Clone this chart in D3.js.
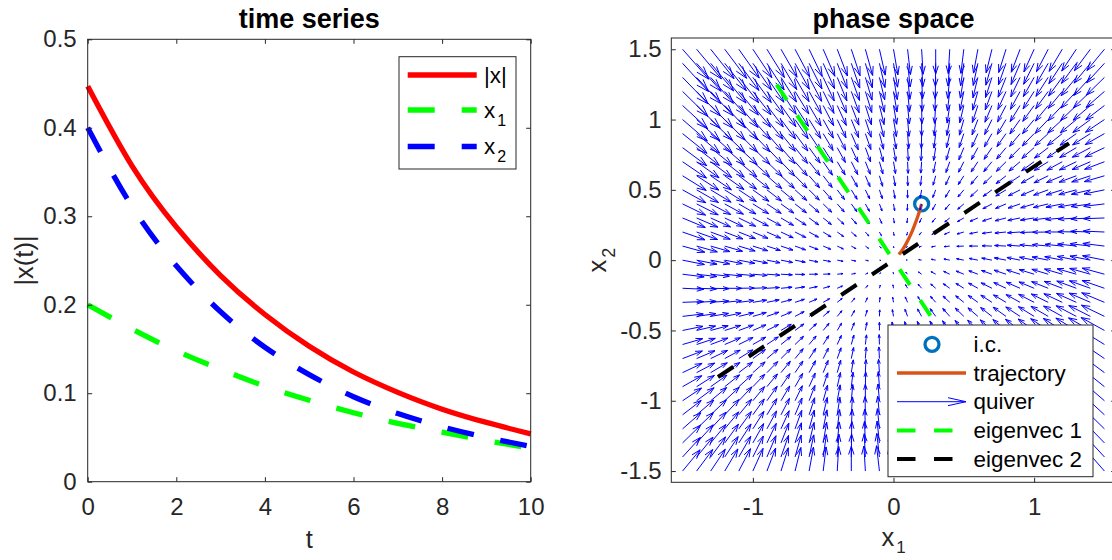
<!DOCTYPE html>
<html>
<head>
<meta charset="utf-8">
<script src="https://cdn.jsdelivr.net/npm/d3@7"></script>
<style>
  body { margin: 0; background: #fff; }
  svg { display: block; font-family: "Liberation Sans", Arial, Helvetica, sans-serif; }
</style>
</head>
<body>
<div id="chart"></div>
<script>
// ---- time series ----
const tValues  = [0, 1, 2, 3, 4, 5, 6, 7, 8, 9, 10];
const normX    = [0.447, 0.357, 0.288, 0.233, 0.189, 0.153, 0.124, 0.101, 0.082, 0.067, 0.054];
const x1Values = [0.200, 0.1725, 0.148, 0.127, 0.108, 0.092, 0.078, 0.066, 0.056, 0.0465, 0.038];
const x2Values = [0.400, 0.311, 0.244, 0.192, 0.152, 0.121, 0.096, 0.077, 0.062, 0.050, 0.040];
const tTicks = [0, 2, 4, 6, 8, 10];
const seriesTicks = [0, 0.1, 0.2, 0.3, 0.4, 0.5];
const seriesNames = ["|x|", "x1", "x2"];

// ---- phase space ----
const initialCondition = [0.2, 0.4];
const systemMatrix = [[-2.3, 0.46], [0.46, -2.69]];
const quiverGrid = [-1.5, -1.4, -1.3, -1.2, -1.1, -1.0, -0.9, -0.8, -0.7, -0.6, -0.5, -0.4, -0.3, -0.2, -0.1,
                    0, 0.1, 0.2, 0.3, 0.4, 0.5, 0.6, 0.7, 0.8, 0.9, 1.0, 1.1, 1.2, 1.3, 1.4, 1.5];
const eigenvec1 = [0.554, -0.832];
const eigenvec2 = [0.832, 0.554];
const eigenSpan = [-1.5, 1.5];
const phaseXTicks = [-1, 0, 1];
const phaseYTicks = [-1.5, -1, -0.5, 0, 0.5, 1, 1.5];
const phaseNames = ["i.c.", "trajectory", "quiver", "eigenvec 1", "eigenvec 2"];

const W = 1112, H = 560;
const axisColor = "#262626";
const tickFont = 24;
const labelFont = 25.5;
const titleFont = 27;
const legendFont = 22.4;

const svg = d3.select("#chart").append("svg")
    .attr("width", W)
    .attr("height", H);

// draws a MATLAB style box with inward ticks on all four sides
function drawAxes(g, x, y, xticks, yticks, ypad) {
    const [xa, xb] = x.range();
    const [yb, ya] = y.range();
    const fmt = d => String(d);
    const tl = 4.5;

    g.append("g").attr("transform", `translate(0,${yb})`)
        .call(d3.axisBottom(x).tickValues(xticks).tickSize(-tl).tickSizeOuter(0).tickPadding(16).tickFormat(fmt));
    g.append("g").attr("transform", `translate(0,${ya})`)
        .call(d3.axisTop(x).tickValues(xticks).tickSize(-tl).tickSizeOuter(0).tickFormat(""));
    g.append("g").attr("transform", `translate(${xa},0)`)
        .call(d3.axisLeft(y).tickValues(yticks).tickSize(-tl).tickSizeOuter(0).tickPadding(ypad).tickFormat(fmt));
    g.append("g").attr("transform", `translate(${xb},0)`)
        .call(d3.axisRight(y).tickValues(yticks).tickSize(-tl).tickSizeOuter(0).tickFormat(""));

    g.selectAll(".domain").remove();
    g.selectAll(".tick line").attr("stroke", axisColor).attr("stroke-width", 1);
    g.selectAll(".tick text")
        .attr("fill", axisColor)
        .style("font-size", tickFont + "px")
        .style("font-family", "'Liberation Sans', Arial, sans-serif");

    g.append("rect")
        .attr("x", xa).attr("y", ya)
        .attr("width", xb - xa).attr("height", yb - ya)
        .attr("fill", "none")
        .attr("stroke", axisColor)
        .attr("stroke-width", 1);
}

// ================= left: time series =================
const xT = d3.scaleLinear().domain([0, 10]).range([87.7, 530.7]);
const yT = d3.scaleLinear().domain([0, 0.5]).range([481.7, 39.3]);

const left = svg.append("g");

const seriesLine = d3.line()
    .x(d => xT(d[0]))
    .y(d => yT(d[1]))
    .curve(d3.curveNatural);

const series = [
    { name: seriesNames[0], values: normX,    color: "#ff0000", dash: null },
    { name: seriesNames[1], values: x1Values, color: "#00ff00", dash: "27,27" },
    { name: seriesNames[2], values: x2Values, color: "#0000ff", dash: "27,27" }
];

left.selectAll(".series")
    .data(series)
    .enter().append("path")
    .attr("class", "series")
    .attr("d", s => seriesLine(tValues.map((t, i) => [t, s.values[i]])))
    .attr("fill", "none")
    .attr("stroke", s => s.color)
    .attr("stroke-width", 5.3)
    .attr("stroke-dasharray", s => s.dash);

drawAxes(left, xT, yT, tTicks, seriesTicks, 11);

left.append("text")
    .attr("x", (xT.range()[0] + xT.range()[1]) / 2)
    .attr("y", 28)
    .attr("text-anchor", "middle")
    .style("font-size", titleFont + "px")
    .style("font-weight", "bold")
    .text("time series");

left.append("text")
    .attr("x", (xT.range()[0] + xT.range()[1]) / 2)
    .attr("y", 548)
    .attr("text-anchor", "middle")
    .attr("fill", axisColor)
    .style("font-size", labelFont + "px")
    .text("t");

left.append("text")
    .attr("transform", `translate(33,${(yT.range()[0] + yT.range()[1]) / 2}) rotate(-90)`)
    .attr("text-anchor", "middle")
    .attr("fill", axisColor)
    .style("font-size", labelFont + "px")
    .text("|x(t)|");

// legend
const leg1 = left.append("g");
leg1.append("rect")
    .attr("x", 399).attr("y", 56.7)
    .attr("width", 117).attr("height", 112.3)
    .attr("fill", "#fff")
    .attr("stroke", axisColor)
    .attr("stroke-width", 1);

const leg1Rows = [75, 110, 146.5];
series.forEach((s, i) => {
    const ry = leg1Rows[i];
    leg1.append("line")
        .attr("x1", 407.7).attr("x2", 476.7)
        .attr("y1", ry).attr("y2", ry)
        .attr("stroke", s.color)
        .attr("stroke-width", 5.3)
        .attr("stroke-dasharray", s.dash);
    const txt = leg1.append("text")
        .attr("x", 484)
        .attr("y", ry + 7.5)
        .style("font-size", legendFont + "px");
    if (s.name === "|x|") {
        txt.text("|x|");
    } else {
        txt.append("tspan").text("x");
        txt.append("tspan").attr("dx", 2).attr("dy", 8).style("font-size", "16px").text(s.name.slice(1));
    }
});

// ================= right: phase space =================
const xP = d3.scaleLinear().domain([-1.58, 1.58]).range([671.3, 1115.7]);
const yP = d3.scaleLinear().domain([-1.58, 1.58]).range([482.3, 38]);

const right = svg.append("g");

// initial condition
right.append("circle")
    .attr("cx", xP(initialCondition[0]))
    .attr("cy", yP(initialCondition[1]))
    .attr("r", 7)
    .attr("fill", "none")
    .attr("stroke", "#0072BD")
    .attr("stroke-width", 3.3);

// trajectory
const trajLine = d3.line()
    .x(d => xP(d[0]))
    .y(d => yP(d[1]))
    .curve(d3.curveCatmullRom);

right.append("path")
    .attr("d", trajLine(x1Values.map((v, i) => [v, x2Values[i]])))
    .attr("fill", "none")
    .attr("stroke", "#D95319")
    .attr("stroke-width", 3.3);

// quiver, scaled the way MATLAB's quiver autoscale does
const quiverScaleFactor = 2.3;
const arrows = [];
quiverGrid.forEach(gx => {
    quiverGrid.forEach(gy => {
        const u = systemMatrix[0][0] * gx + systemMatrix[0][1] * gy;
        const v = systemMatrix[1][0] * gx + systemMatrix[1][1] * gy;
        arrows.push({ x: gx, y: gy, u: u, v: v });
    });
});
const n = quiverGrid.length;
const delx = (d3.max(quiverGrid) - d3.min(quiverGrid)) / n;
const del = 2 * delx * delx;
const maxlen = d3.max(arrows, a => Math.sqrt((a.u * a.u + a.v * a.v) / del));
const autoscale = quiverScaleFactor * 0.9 / maxlen;

const alpha = 0.33, beta = 0.33;
let quiverPath = "";
arrows.forEach(a => {
    const u = a.u * autoscale, v = a.v * autoscale;
    const tx = a.x + u, ty = a.y + v;
    const h1x = tx - alpha * (u + beta * v), h1y = ty - alpha * (v - beta * u);
    const h2x = tx - alpha * (u - beta * v), h2y = ty - alpha * (v + beta * u);
    quiverPath += `M${xP(a.x)},${yP(a.y)}L${xP(tx)},${yP(ty)}`;
    quiverPath += `M${xP(h1x)},${yP(h1y)}L${xP(tx)},${yP(ty)}L${xP(h2x)},${yP(h2y)}`;
});
right.append("path")
    .attr("d", quiverPath)
    .attr("fill", "none")
    .attr("stroke", "#0000ff")
    .attr("stroke-width", 1);

// eigenvectors
const eigLine = d3.line().x(d => xP(d[0])).y(d => yP(d[1]));
[[eigenvec1, "#00ff00"], [eigenvec2, "#000000"]].forEach(([ev, col]) => {
    right.append("path")
        .attr("d", eigLine(eigenSpan.map(s => [s * ev[0], s * ev[1]])))
        .attr("fill", "none")
        .attr("stroke", col)
        .attr("stroke-width", 4)
        .attr("stroke-dasharray", "18.5,18.5");
});

drawAxes(right, xP, yP, phaseXTicks, phaseYTicks, 9.6);

right.append("text")
    .attr("x", (xP.range()[0] + xP.range()[1]) / 2)
    .attr("y", 28)
    .attr("text-anchor", "middle")
    .style("font-size", titleFont + "px")
    .style("font-weight", "bold")
    .text("phase space");

const xlab = right.append("text")
    .attr("x", xP(0))
    .attr("y", 546)
    .attr("text-anchor", "middle")
    .attr("fill", axisColor)
    .style("font-size", labelFont + "px");
xlab.append("tspan").text("x");
xlab.append("tspan").attr("dx", 2).attr("dy", 7).style("font-size", "17px").text("1");

const ylab = right.append("text")
    .attr("transform", `translate(606,${yP(0)}) rotate(-90)`)
    .attr("text-anchor", "middle")
    .attr("fill", axisColor)
    .style("font-size", labelFont + "px");
ylab.append("tspan").text("x");
ylab.append("tspan").attr("dx", 2).attr("dy", 9).style("font-size", "18px").text("2");

// legend
const leg2 = right.append("g");
leg2.append("rect")
    .attr("x", 888).attr("y", 325)
    .attr("width", 205).attr("height", 151.7)
    .attr("fill", "#fff")
    .attr("stroke", axisColor)
    .attr("stroke-width", 1);

const leg2Top = 344.3, leg2Step = 28.7;
phaseNames.forEach((name, i) => {
    const ry = leg2Top + i * leg2Step;
    if (i === 0) {
        leg2.append("circle").attr("cx", 932).attr("cy", ry).attr("r", 7)
            .attr("fill", "none").attr("stroke", "#0072BD").attr("stroke-width", 3.3);
    } else if (i === 1) {
        leg2.append("line").attr("x1", 897).attr("x2", 966).attr("y1", ry).attr("y2", ry)
            .attr("stroke", "#D95319").attr("stroke-width", 3.3);
    } else if (i === 2) {
        leg2.append("path")
            .attr("d", `M897,${ry}L966,${ry}M948,${ry - 4}L966,${ry}L948,${ry + 4}`)
            .attr("fill", "none").attr("stroke", "#0000ff").attr("stroke-width", 1);
    } else {
        leg2.append("line").attr("x1", 897).attr("x2", 966).attr("y1", ry).attr("y2", ry)
            .attr("stroke", i === 3 ? "#00ff00" : "#000000")
            .attr("stroke-width", 4)
            .attr("stroke-dasharray", "18.5,18.5");
    }
    leg2.append("text")
        .attr("x", 973.6)
        .attr("y", ry + 7.5)
        .style("font-size", legendFont + "px")
        .text(name);
});
</script>
</body>
</html>
